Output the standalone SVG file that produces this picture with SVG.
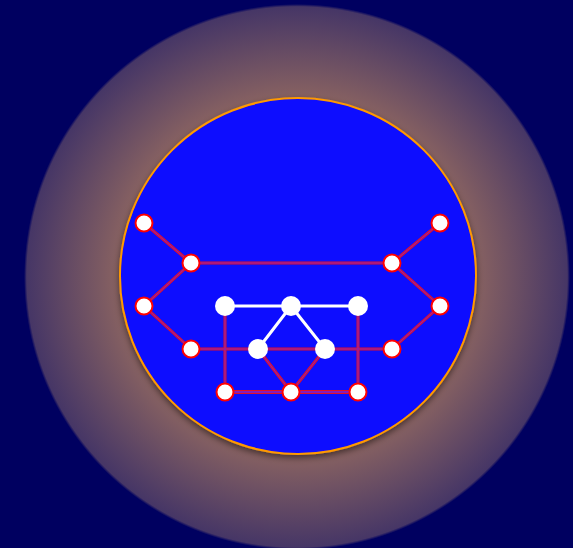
<svg xmlns="http://www.w3.org/2000/svg" width="573" height="548" viewBox="0 0 573 548">
<defs>
<radialGradient id="glow" cx="297" cy="277" r="273" gradientUnits="userSpaceOnUse">
<stop offset="0" stop-color="#a87058"/>
<stop offset="0.64" stop-color="#8b6461"/>
<stop offset="0.99" stop-color="#463666"/>
<stop offset="1" stop-color="#000060"/>
</radialGradient>
<filter id="shadow" x="-20%" y="-20%" width="140%" height="140%">
<feDropShadow dx="0" dy="3" stdDeviation="3" flood-color="#000" flood-opacity="0.5"/>
</filter>
<style>
.e{fill:none;stroke:#e0102a;stroke-width:3}
.ei{fill:none;stroke:#8020c8;stroke-width:1}
.eb{fill:none;stroke:#e0102a;stroke-width:4}
.ebi{fill:none;stroke:#8a1ab8;stroke-width:2}
.w{fill:none;stroke:#ffffff;stroke-width:3}
.rn{fill:#ffffff;stroke:#ff0000;stroke-width:2}
.wn{fill:#ffffff}
</style>
</defs>
<rect width="573" height="548" fill="#000060"/>
<circle cx="297" cy="277" r="273" fill="url(#glow)"/>
<circle cx="298" cy="276" r="178" fill="#0a0aff" stroke="#ff9900" stroke-width="2" filter="url(#shadow)"/>
<g id="connectors">
<path class="e" d="M144,223L191,263L144,306L191,349M191,263H392M440,223L392,263L440,306L392,349M191,349H392M225,306V392M358,306V392M258,349L291,392L325,349"/>
<path class="ei" d="M144,223L191,263L144,306L191,349M191,263H392M440,223L392,263L440,306L392,349M191,349H392M225,306V392M358,306V392M258,349L291,392L325,349"/>
<path class="eb" d="M225,392H358"/>
<path class="ebi" d="M225,392H358"/>
<path class="w" d="M225,306H358M291,306L258,349M291,306L325,349"/>
</g>
<g id="n1"><circle class="rn" cx="144" cy="223" r="8.5"/></g>
<g id="n2"><circle class="rn" cx="191" cy="263" r="8.5"/></g>
<g id="n3"><circle class="rn" cx="144" cy="306" r="8.5"/></g>
<g id="n4"><circle class="rn" cx="191" cy="349" r="8.5"/></g>
<g id="n5"><circle class="rn" cx="440" cy="223" r="8.5"/></g>
<g id="n6"><circle class="rn" cx="392" cy="263" r="8.5"/></g>
<g id="n7"><circle class="rn" cx="440" cy="306" r="8.5"/></g>
<g id="n8"><circle class="rn" cx="392" cy="349" r="8.5"/></g>
<g id="n9"><circle class="rn" cx="225" cy="392" r="8.5"/></g>
<g id="n10"><circle class="rn" cx="291" cy="392" r="8.5"/></g>
<g id="n11"><circle class="rn" cx="358" cy="392" r="8.5"/></g>
<g id="w1"><circle class="wn" cx="225" cy="306" r="10"/></g>
<g id="w2"><circle class="wn" cx="291" cy="306" r="10"/></g>
<g id="w3"><circle class="wn" cx="358" cy="306" r="10"/></g>
<g id="w4"><circle class="wn" cx="258" cy="349" r="10"/></g>
<g id="w5"><circle class="wn" cx="325" cy="349" r="10"/></g>
</svg>
